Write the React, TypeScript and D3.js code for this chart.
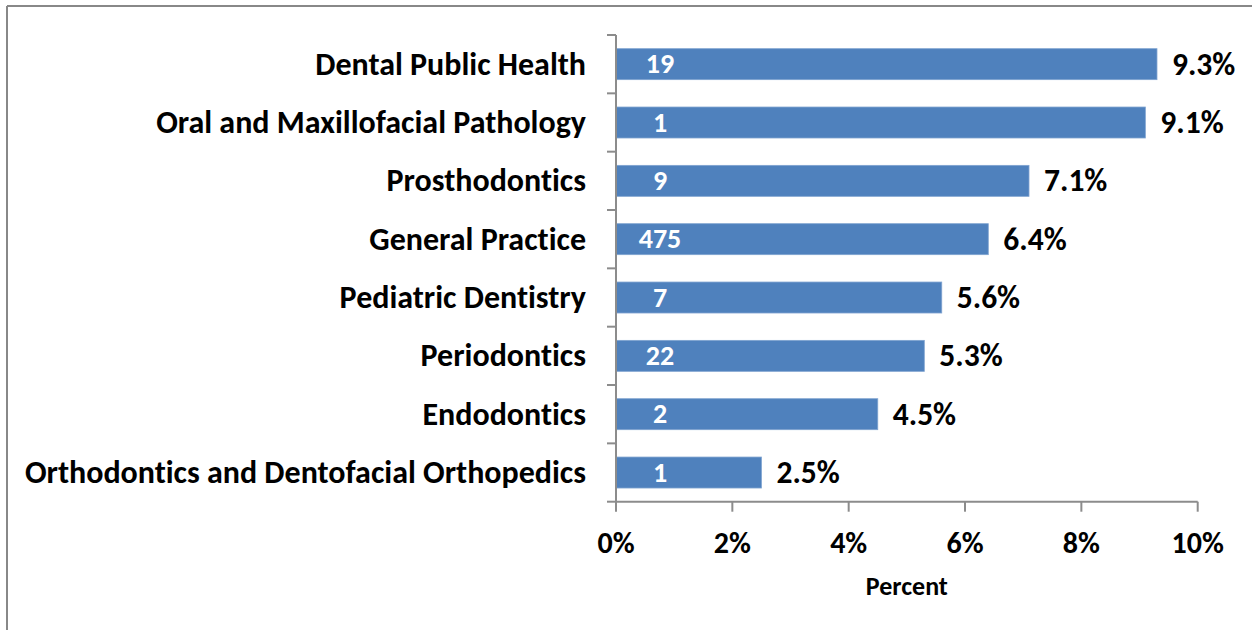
import React from "react";
import * as d3 from "d3";

const categories = [
  "Dental Public Health",
  "Oral and Maxillofacial Pathology",
  "Prosthodontics",
  "General Practice",
  "Pediatric Dentistry",
  "Periodontics",
  "Endodontics",
  "Orthodontics and Dentofacial Orthopedics",
];
const percentValues = [9.3, 9.1, 7.1, 6.4, 5.6, 5.3, 4.5, 2.5];
const counts = [19, 1, 9, 475, 7, 22, 2, 1];
const xTicks = [0, 2, 4, 6, 8, 10];

const W = 1252;
const H = 630;
const FONT = "Carlito, Calibri, 'Open Sans', sans-serif";
const AXIS = "#8c8c8c";
const BAR = "#4F81BD";

export default function App() {
  const x = d3.scaleLinear().domain([0, 10]).range([616, 1197.7]);
  const y = d3
    .scaleBand<string>()
    .domain(categories)
    .range([35, 501.7])
    .paddingInner(0.469)
    .paddingOuter(0.2345);
  const step = y.step();
  const top = 35;
  const bottom = 501.7;
  const bounds = d3.range(categories.length + 1).map((i) => top + i * step);

  return (
    <svg
      width={W}
      height={H}
      style={{
        position: "absolute",
        left: 0,
        top: 0,
        background: "#fff",
        fontVariantLigatures: "none",
        fontFeatureSettings: "'liga' 0, 'clig' 0",
      }}
    >
      <rect x={0} y={0} width={W} height={H} fill="#fff" />
      {/* frame */}
      <line x1={7} y1={6} x2={W} y2={6} stroke="#888" strokeWidth={2} />
      <line x1={7} y1={6} x2={7} y2={H} stroke="#888" strokeWidth={2} />

      {/* bars */}
      {categories.map((c, i) => {
        const by = y(c)!;
        const bh = y.bandwidth();
        const cy = by + bh / 2;
        return (
          <g key={c}>
            <rect
              x={x(0)}
              y={by}
              width={x(percentValues[i]) - x(0)}
              height={bh}
              fill={BAR}
              stroke="#7fa3d0"
              strokeWidth={0.8}
            />
            <text
              x={x(0) + 44}
              y={cy + 9}
              textAnchor="middle"
              fill="#fff"
              fontFamily={FONT}
              fontWeight="bold"
              fontSize={28}
            >
              {counts[i]}
            </text>
            <text
              x={x(percentValues[i]) + 15}
              y={cy + 10.5}
              textAnchor="start"
              fill="#000"
              fontFamily={FONT}
              fontWeight="bold"
              fontSize={31.5}
            >
              {percentValues[i].toFixed(1) + "%"}
            </text>
            <text
              x={586}
              y={cy + 10.5}
              textAnchor="end"
              fill="#000"
              fontFamily={FONT}
              fontWeight="bold"
              fontSize={32}
            >
              {c}
            </text>
          </g>
        );
      })}

      {/* y axis */}
      <line x1={x(0)} y1={top} x2={x(0)} y2={bottom} stroke={AXIS} strokeWidth={2} />
      {bounds.map((b, i) => (
        <line key={i} x1={x(0) - 9} y1={b} x2={x(0)} y2={b} stroke={AXIS} strokeWidth={2} />
      ))}

      {/* x axis */}
      <line x1={x(0)} y1={bottom} x2={x(10)} y2={bottom} stroke={AXIS} strokeWidth={2} />
      {xTicks.map((t) => (
        <g key={t}>
          <line x1={x(t)} y1={bottom} x2={x(t)} y2={bottom + 10} stroke={AXIS} strokeWidth={2} />
          <text
            x={x(t)}
            y={553}
            textAnchor="middle"
            fill="#000"
            fontFamily={FONT}
            fontWeight="bold"
            fontSize={30}
          >
            {t + "%"}
          </text>
        </g>
      ))}
      <text
        x={(x(0) + x(10)) / 2}
        y={595}
        textAnchor="middle"
        fill="#000"
        fontFamily={FONT}
        fontWeight="bold"
        fontSize={26}
      >
        Percent
      </text>
    </svg>
  );
}
